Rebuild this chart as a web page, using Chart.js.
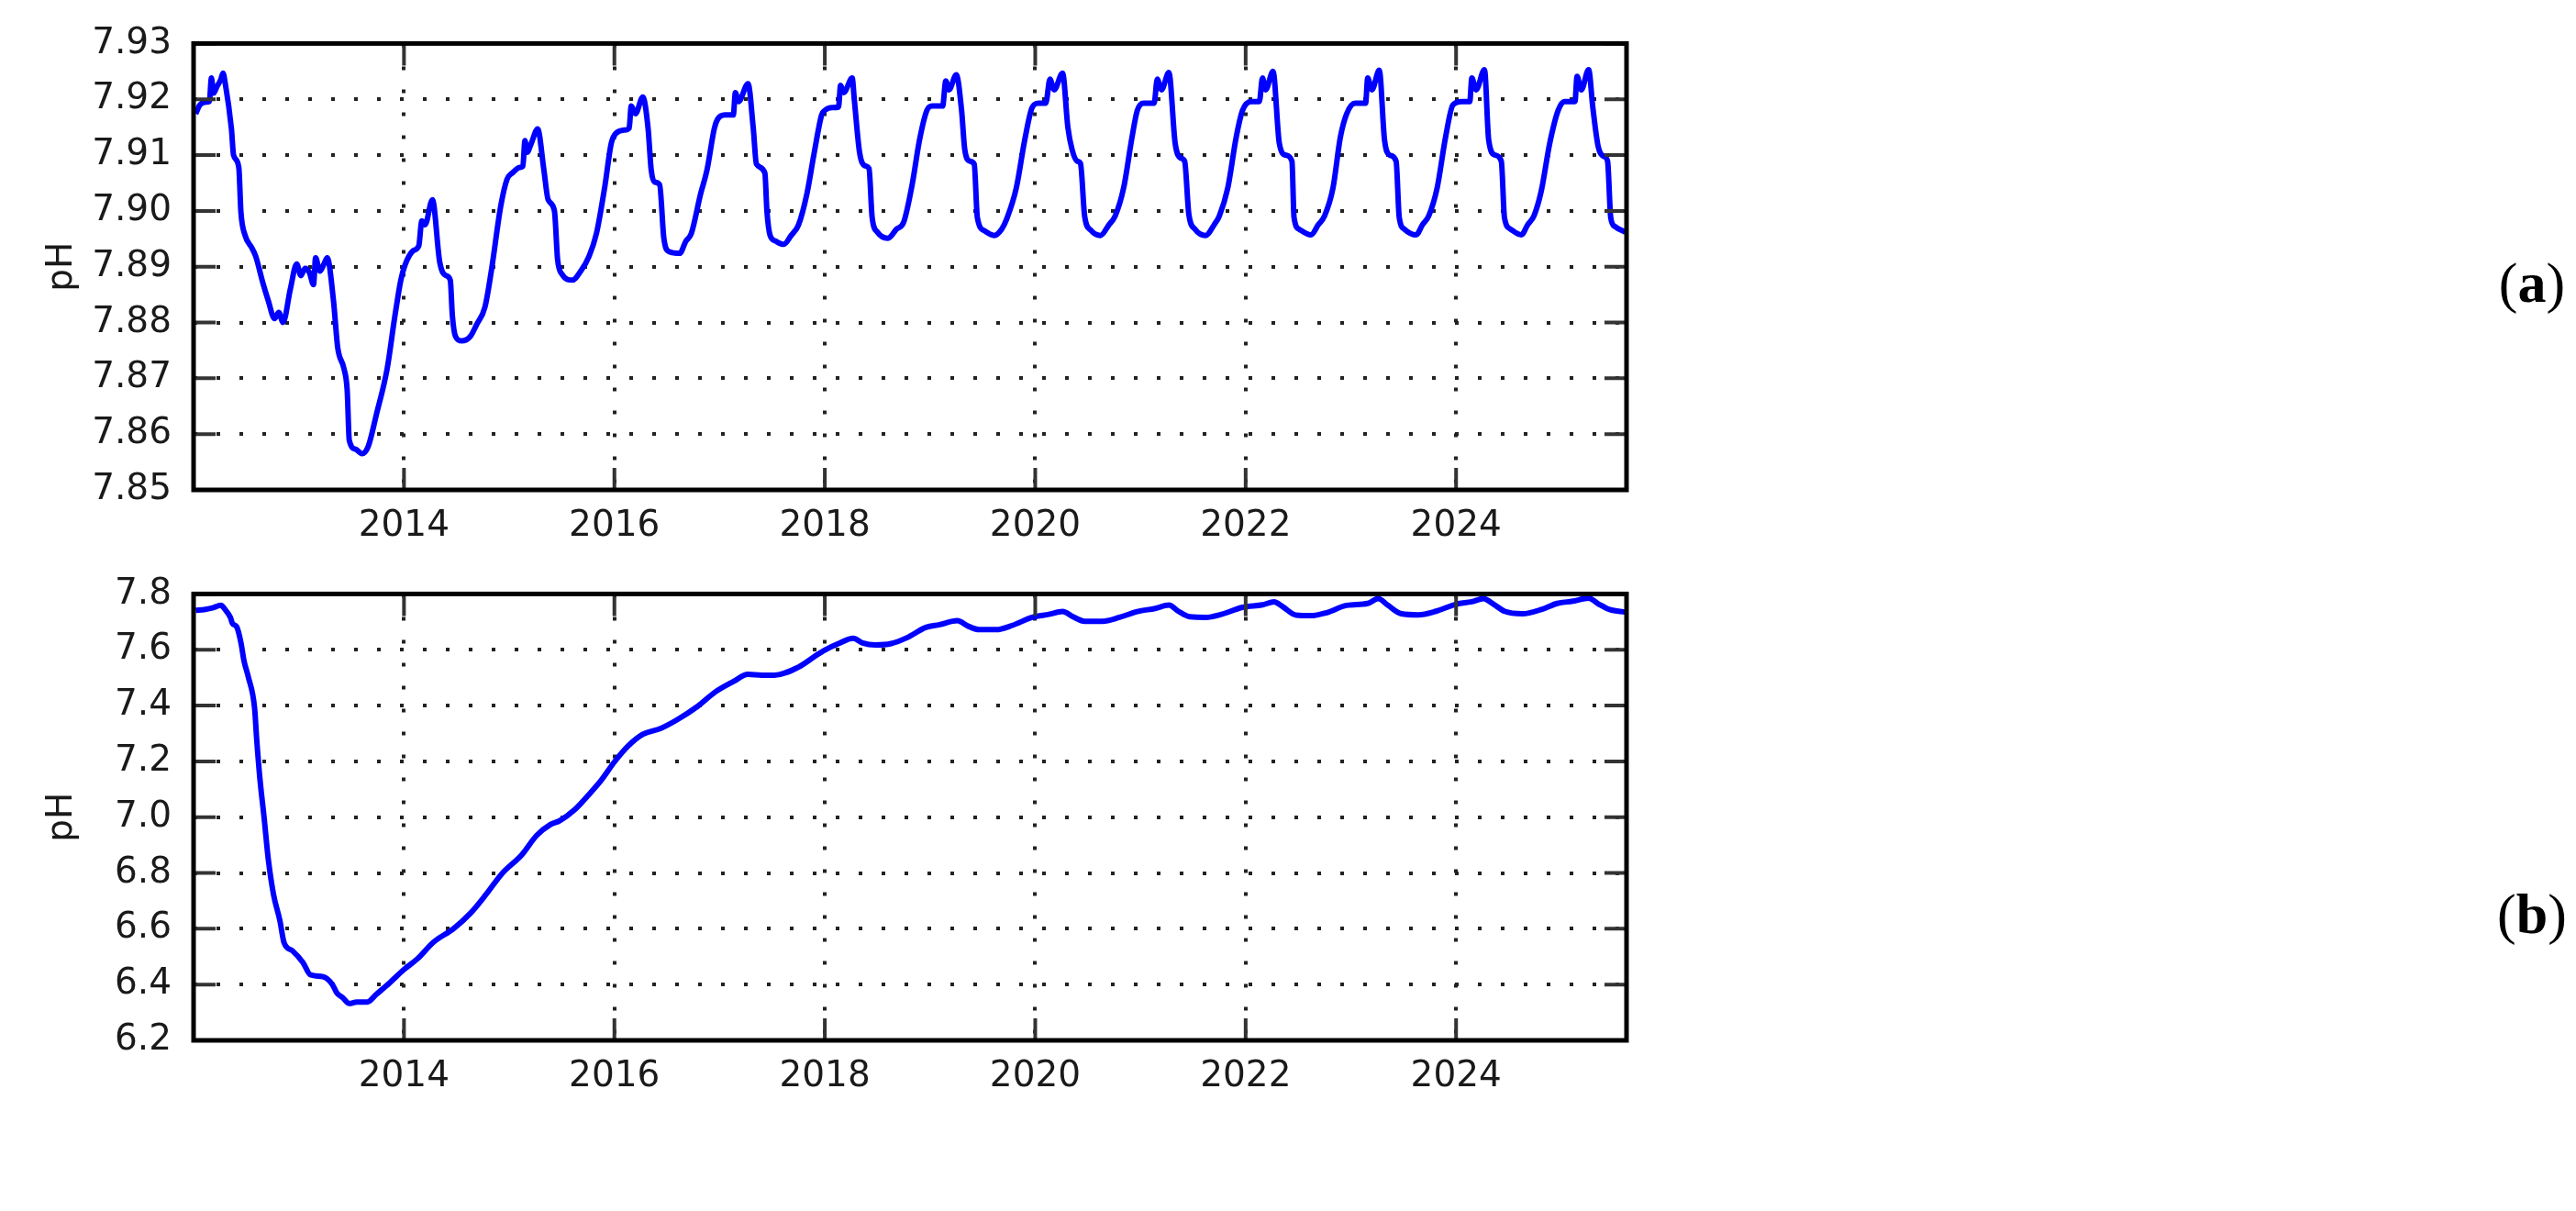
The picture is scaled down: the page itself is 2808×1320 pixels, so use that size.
<!DOCTYPE html>
<html>
<head>
<meta charset="utf-8">
<script src="https://cdn.jsdelivr.net/npm/chart.js@4.4.1/dist/chart.umd.min.js"></script>
<style>
  body { margin: 0; width: 2808px; height: 1320px; background: #fff; overflow: hidden; position: relative; }
  .box { position: absolute; left: 0; width: 1800px; height: 600px; }
  .tag { position: absolute; width: 120px; text-align: center; font-family: "Liberation Serif", "Times New Roman", serif; font-size: 62px; line-height: 72px; color: #000; }
</style>
</head>
<body>
<div class="box" style="top:0"><canvas id="chartA"></canvas></div>
<div class="box" style="top:600px"><canvas id="chartB"></canvas></div>
<div class="tag" style="left:2700px; top:272px">(<b>a</b>)</div>
<div class="tag" style="left:2700px; top:960px">(<b>b</b>)</div>

<script>
// x ticks (years) shared by both panels
const xTicks = [2014, 2016, 2018, 2020, 2022, 2024];
const yTicksA = [7.85, 7.86, 7.87, 7.88, 7.89, 7.90, 7.91, 7.92, 7.93];
const yTicksB = [6.2, 6.4, 6.6, 6.8, 7.0, 7.2, 7.4, 7.6, 7.8];

// panel (a)
const yearsA = [
  2012.02, 2012.06, 2012.12, 2012.15, 2012.17, 2012.19, 2012.22, 2012.26, 2012.28, 2012.30,
  2012.36, 2012.38, 2012.43, 2012.45, 2012.49, 2012.55, 2012.59, 2012.66, 2012.71, 2012.77,
  2012.81, 2012.85, 2012.92, 2012.98, 2013.02, 2013.06, 2013.10, 2013.14, 2013.16, 2013.20,
  2013.24, 2013.27, 2013.33, 2013.37, 2013.43, 2013.46, 2013.48, 2013.54, 2013.60, 2013.66,
  2013.74, 2013.84, 2013.91, 2013.97, 2014.01, 2014.09, 2014.14, 2014.17, 2014.20, 2014.27,
  2014.34, 2014.40, 2014.44, 2014.46, 2014.49, 2014.55, 2014.63, 2014.69, 2014.77, 2014.83,
  2014.92, 2014.98, 2015.03, 2015.10, 2015.13, 2015.15, 2015.17, 2015.21, 2015.27, 2015.33,
  2015.37, 2015.43, 2015.46, 2015.50, 2015.60, 2015.68, 2015.76, 2015.83, 2015.91, 2015.97,
  2016.02, 2016.10, 2016.14, 2016.16, 2016.20, 2016.27, 2016.32, 2016.35, 2016.38, 2016.43,
  2016.47, 2016.52, 2016.62, 2016.68, 2016.73, 2016.82, 2016.88, 2016.95, 2016.98, 2017.05,
  2017.13, 2017.15, 2017.18, 2017.27, 2017.32, 2017.35, 2017.43, 2017.45, 2017.48, 2017.53,
  2017.61, 2017.68, 2017.75, 2017.83, 2017.90, 2017.97, 2018.00, 2018.07, 2018.13, 2018.15,
  2018.18, 2018.26, 2018.28, 2018.33, 2018.38, 2018.42, 2018.45, 2018.50, 2018.60, 2018.68,
  2018.75, 2018.83, 2018.90, 2018.97, 2019.02, 2019.12, 2019.15, 2019.18, 2019.25, 2019.30,
  2019.33, 2019.38, 2019.42, 2019.45, 2019.52, 2019.61, 2019.68, 2019.73, 2019.82, 2019.90,
  2019.97, 2020.03, 2020.10, 2020.14, 2020.18, 2020.26, 2020.31, 2020.35, 2020.40, 2020.43,
  2020.47, 2020.53, 2020.62, 2020.70, 2020.76, 2020.84, 2020.92, 2020.97, 2021.03, 2021.13,
  2021.16, 2021.20, 2021.27, 2021.33, 2021.38, 2021.42, 2021.46, 2021.52, 2021.62, 2021.70,
  2021.75, 2021.83, 2021.91, 2021.97, 2022.05, 2022.13, 2022.16, 2022.19, 2022.26, 2022.32,
  2022.38, 2022.44, 2022.46, 2022.51, 2022.62, 2022.69, 2022.75, 2022.83, 2022.90, 2022.96,
  2023.04, 2023.14, 2023.16, 2023.20, 2023.27, 2023.32, 2023.37, 2023.43, 2023.46, 2023.51,
  2023.62, 2023.68, 2023.74, 2023.82, 2023.90, 2023.97, 2024.05, 2024.13, 2024.15, 2024.19,
  2024.27, 2024.31, 2024.37, 2024.43, 2024.46, 2024.52, 2024.62, 2024.68, 2024.74, 2024.81,
  2024.89, 2024.97, 2025.03, 2025.13, 2025.15, 2025.19, 2025.26, 2025.30, 2025.35, 2025.41,
  2025.44, 2025.47, 2025.51, 2025.61
];
const phA = [
  7.9174, 7.9190, 7.9195, 7.9196, 7.9238, 7.9211, 7.9222, 7.9236, 7.9247, 7.9230,
  7.9147, 7.9100, 7.9078, 7.8998, 7.8956, 7.8935, 7.8919, 7.8870, 7.8839, 7.8807,
  7.8818, 7.8800, 7.8860, 7.8905, 7.8884, 7.8897, 7.8890, 7.8868, 7.8916, 7.8892,
  7.8905, 7.8916, 7.8839, 7.8755, 7.8717, 7.8679, 7.8589, 7.8573, 7.8565, 7.8578,
  7.8637, 7.8717, 7.8807, 7.8876, 7.8903, 7.8929, 7.8937, 7.8982, 7.8975, 7.9020,
  7.8908, 7.8884, 7.8876, 7.8812, 7.8775, 7.8767, 7.8775, 7.8796, 7.8828, 7.8892,
  7.9009, 7.9057, 7.9068, 7.9078, 7.9080, 7.9126, 7.9105, 7.9121, 7.9147, 7.9073,
  7.9020, 7.9000, 7.8913, 7.8887, 7.8876, 7.8892, 7.8919, 7.8960, 7.9045, 7.9121,
  7.9140, 7.9145, 7.9148, 7.9188, 7.9174, 7.9204, 7.9148, 7.9073, 7.9052, 7.9047,
  7.8951, 7.8927, 7.8924, 7.8946, 7.8959, 7.9031, 7.9073, 7.9148, 7.9164, 7.9172,
  7.9172, 7.9212, 7.9196, 7.9228, 7.9148, 7.9084, 7.9068, 7.8999, 7.8956, 7.8946,
  7.8940, 7.8956, 7.8975, 7.9031, 7.9105, 7.9172, 7.9180, 7.9185, 7.9186, 7.9225,
  7.9212, 7.9238, 7.9200, 7.9105, 7.9081, 7.9076, 7.8988, 7.8962, 7.8951, 7.8967,
  7.8980, 7.9047, 7.9127, 7.9180, 7.9188, 7.9188, 7.9233, 7.9217, 7.9244, 7.9180,
  7.9110, 7.9089, 7.9084, 7.8988, 7.8964, 7.8956, 7.8967, 7.8986, 7.9041, 7.9127,
  7.9185, 7.9193, 7.9193, 7.9236, 7.9217, 7.9247, 7.9150, 7.9110, 7.9089, 7.9085,
  7.8990, 7.8965, 7.8956, 7.8975, 7.8991, 7.9041, 7.9132, 7.9180, 7.9193, 7.9193,
  7.9236, 7.9217, 7.9248, 7.9121, 7.9095, 7.9089, 7.8994, 7.8967, 7.8956, 7.8975,
  7.8991, 7.9041, 7.9132, 7.9180, 7.9196, 7.9196, 7.9238, 7.9217, 7.9250, 7.9121,
  7.9100, 7.9089, 7.8988, 7.8967, 7.8957, 7.8975, 7.8991, 7.9041, 7.9132, 7.9174,
  7.9193, 7.9193, 7.9238, 7.9217, 7.9252, 7.9127, 7.9100, 7.9089, 7.8988, 7.8967,
  7.8957, 7.8975, 7.8991, 7.9041, 7.9132, 7.9190, 7.9196, 7.9196, 7.9238, 7.9217,
  7.9253, 7.9127, 7.9100, 7.9089, 7.8988, 7.8967, 7.8957, 7.8975, 7.8991, 7.9036,
  7.9121, 7.9180, 7.9196, 7.9196, 7.9241, 7.9217, 7.9253, 7.9185, 7.9116, 7.9097,
  7.9089, 7.8988, 7.8972, 7.8962
];

// panel (b)
const yearsB = [
  2012.02, 2012.10, 2012.18, 2012.26, 2012.30, 2012.35, 2012.37, 2012.41, 2012.45, 2012.48,
  2012.52, 2012.58, 2012.60, 2012.63, 2012.67, 2012.71, 2012.76, 2012.82, 2012.86, 2012.94,
  2013.04, 2013.11, 2013.23, 2013.32, 2013.36, 2013.42, 2013.48, 2013.55, 2013.65, 2013.74,
  2013.86, 2014.00, 2014.13, 2014.28, 2014.47, 2014.63, 2014.78, 2014.93, 2015.12, 2015.26,
  2015.39, 2015.48, 2015.62, 2015.75, 2015.87, 2016.00, 2016.13, 2016.27, 2016.44, 2016.60,
  2016.79, 2016.96, 2017.13, 2017.27, 2017.40, 2017.52, 2017.75, 2017.90, 2018.00, 2018.13,
  2018.27, 2018.36, 2018.48, 2018.63, 2018.78, 2018.96, 2019.09, 2019.26, 2019.36, 2019.47,
  2019.63, 2019.78, 2019.97, 2020.13, 2020.26, 2020.36, 2020.47, 2020.64, 2020.80, 2020.97,
  2021.14, 2021.27, 2021.36, 2021.47, 2021.62, 2021.77, 2021.97, 2022.16, 2022.27, 2022.35,
  2022.48, 2022.62, 2022.77, 2022.96, 2023.16, 2023.26, 2023.35, 2023.48, 2023.64, 2023.81,
  2024.00, 2024.15, 2024.26, 2024.35, 2024.46, 2024.63, 2024.81, 2024.96, 2025.11, 2025.26,
  2025.35, 2025.46, 2025.61
];
const phB = [
  7.741, 7.744, 7.750, 7.759, 7.744, 7.716, 7.694, 7.682, 7.626, 7.559,
  7.503, 7.391, 7.279, 7.140, 7.000, 6.850, 6.723, 6.630, 6.550, 6.521,
  6.479, 6.435, 6.428, 6.400, 6.371, 6.352, 6.332, 6.337, 6.337, 6.366,
  6.405, 6.454, 6.493, 6.552, 6.600, 6.655, 6.723, 6.797, 6.865, 6.934,
  6.973, 6.987, 7.026, 7.078, 7.130, 7.198, 7.255, 7.297, 7.318, 7.350,
  7.397, 7.449, 7.486, 7.512, 7.509, 7.509, 7.538, 7.575, 7.599, 7.622,
  7.641, 7.624, 7.617, 7.622, 7.643, 7.680, 7.690, 7.704, 7.685, 7.672,
  7.672, 7.687, 7.716, 7.727, 7.737, 7.718, 7.702, 7.702, 7.716, 7.737,
  7.748, 7.760, 7.738, 7.718, 7.716, 7.727, 7.752, 7.761, 7.772, 7.755,
  7.724, 7.722, 7.733, 7.759, 7.766, 7.783, 7.760, 7.729, 7.725, 7.738,
  7.763, 7.772, 7.783, 7.765, 7.738, 7.729, 7.744, 7.766, 7.774, 7.785,
  7.765, 7.744, 7.735
];

const textFont = { family: "DejaVu Sans, Verdana, sans-serif", size: 39 };

// black frame + inward tick marks on all four sides
const frameTicks = {
  id: "frameTicks",
  afterDraw(chart) {
    const c = chart.ctx;
    const a = chart.chartArea;
    const xs = chart.scales.x;
    const ys = chart.scales.y;
    const len = 24;
    c.save();
    c.strokeStyle = "#333";
    c.lineWidth = 4;
    c.beginPath();
    xs.ticks.forEach((t) => {
      const px = xs.getPixelForValue(t.value);
      c.moveTo(px, a.bottom); c.lineTo(px, a.bottom - len);
      c.moveTo(px, a.top); c.lineTo(px, a.top + len);
    });
    ys.ticks.forEach((t) => {
      const py = ys.getPixelForValue(t.value);
      c.moveTo(a.left, py); c.lineTo(a.left + len, py);
      c.moveTo(a.right, py); c.lineTo(a.right - len, py);
    });
    c.stroke();
    c.strokeStyle = "#000";
    c.lineWidth = 5;
    c.strokeRect(a.left, a.top, a.right - a.left, a.bottom - a.top);
    c.restore();
  }
};

function makeChart(id, years, ph, yMin, yMax, yTicks, digits, padTop) {
  const points = years.map((x, i) => ({ x: x, y: ph[i] }));
  return new Chart(document.getElementById(id), {
    type: "line",
    data: {
      datasets: [{
        data: points,
        borderColor: "#0000ff",
        borderWidth: 6,
        pointRadius: 0,
        cubicInterpolationMode: "monotone",
        fill: false
      }]
    },
    options: {
      responsive: true,
      maintainAspectRatio: false,
      animation: false,
      layout: { autoPadding: false, padding: { top: padTop, right: 27, bottom: 0, left: 0 } },
      plugins: { legend: { display: false }, tooltip: { enabled: false } },
      scales: {
        x: {
          type: "linear",
          min: 2012.0,
          max: 2025.62,
          afterBuildTicks: (s) => { s.ticks = xTicks.map((v) => ({ value: v })); },
          afterFit: (s) => { s.height = 66; },
          ticks: { font: textFont, color: "#1a1a1a", padding: 16, maxRotation: 0, callback: (v) => String(v) },
          grid: { color: "#222", lineWidth: 4, drawTicks: false },
          border: { display: false, dash: [4, 21] }
        },
        y: {
          min: yMin,
          max: yMax,
          afterBuildTicks: (s) => { s.ticks = yTicks.map((v) => ({ value: v })); },
          afterFit: (s) => { s.width = 211; },
          ticks: { font: textFont, color: "#1a1a1a", padding: 24, callback: (v) => v.toFixed(digits) },
          grid: { color: "#222", lineWidth: 4, drawTicks: false },
          border: { display: false, dash: [4, 21] },
          title: { display: true, text: "pH", font: textFont, color: "#1a1a1a", padding: { top: 44, bottom: 0 } }
        }
      }
    },
    plugins: [frameTicks]
  });
}

makeChart("chartA", yearsA, phA, 7.85, 7.93, yTicksA, 2, 32);
makeChart("chartB", yearsB, phB, 6.2, 7.8, yTicksB, 1, 34);
</script>
</body>
</html>
